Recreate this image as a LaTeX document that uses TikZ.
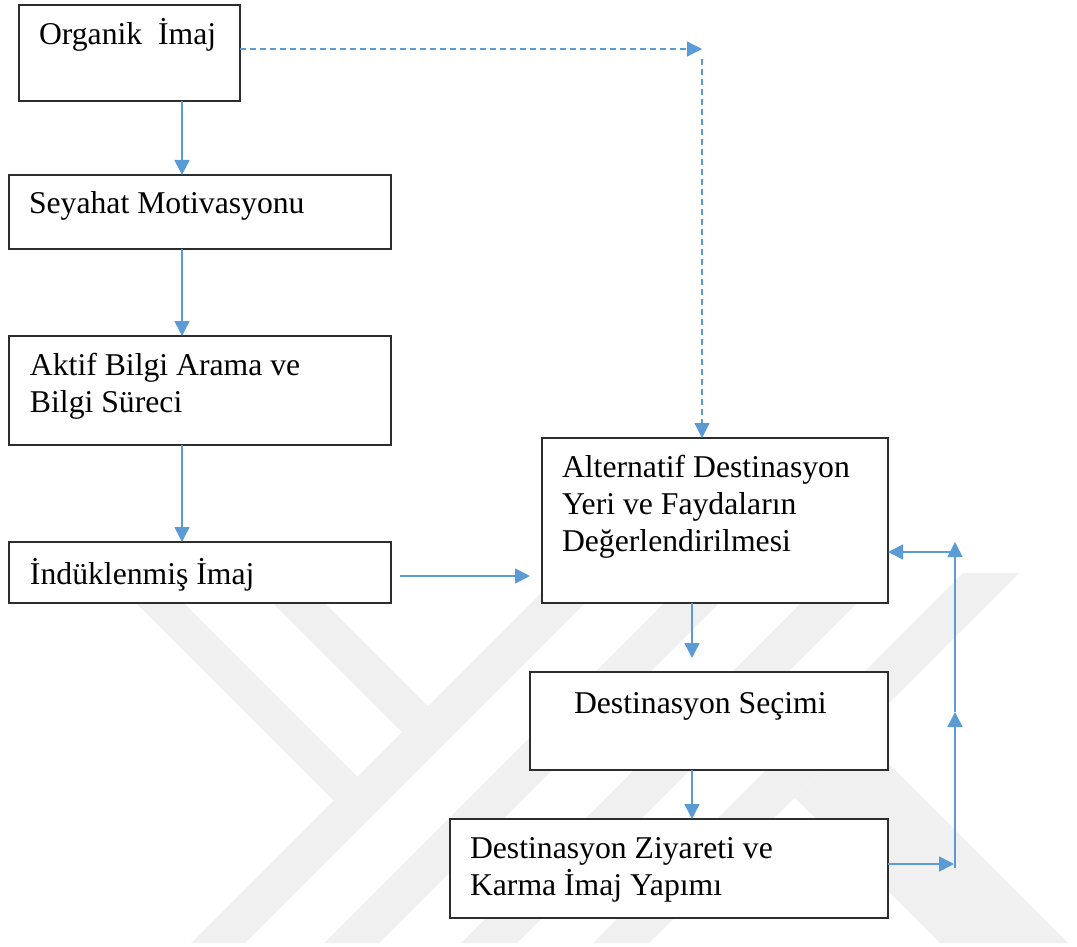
\documentclass[tikz,border=0pt]{standalone}
\usepackage{fontspec}
\setmainfont{Liberation Serif}
\usetikzlibrary{arrows.meta}
\definecolor{flowblue}{RGB}{91,155,213}
\definecolor{wmgray}{RGB}{240,240,240}
\definecolor{boxline}{RGB}{45,45,45}
\begin{document}
\begin{tikzpicture}[x=1pt,y=-1pt,
  box/.style={draw=boxline, line width=1.8pt, fill=white, inner sep=0pt, outer sep=0pt},
  lbl/.style={anchor=base west, inner sep=0pt, outer sep=0pt, font=\fontsize{31.7}{37}\selectfont},
  arr/.style={draw=flowblue, line width=1.5pt, -{Triangle[length=15pt,width=15pt]}},
  dsh/.style={arr, line width=1.2pt, dash pattern=on 6pt off 4pt},
  wm/.style={fill=wmgray, draw=none}]
\useasboundingbox (0,0) rectangle (1077,947);

% watermark
\begin{scope}
\clip (0,573) rectangle (1077,943);
\fill[wm] (106,573) -- (154,573) -- (357.5,776.5) -- (333.5,800.5) -- cycle;
\fill[wm] (243,573) -- (295,573) -- (428,706) -- (402,732) -- cycle;
\fill[wm] (561,573) -- (615,573) -- (245,943) -- (191,943) -- cycle;
\fill[wm] (694,573) -- (749,573) -- (379,943) -- (324,943) -- cycle;
\fill[wm] (831,573) -- (887,573) -- (517,943) -- (461,943) -- cycle;
\fill[wm] (963,573) -- (1019,573) -- (649,943) -- (593,943) -- cycle;
\fill[wm] (794.5,797.5) -- (858.5,733.5) -- (1068,943) -- (940,943) -- cycle;
\end{scope}

% boxes
\node[box, minimum width=221pt, minimum height=96pt]  (org) at (129.5,53) {};
\node[box, minimum width=382pt, minimum height=74pt]  (sey) at (200,212) {};
\node[box, minimum width=382pt, minimum height=109pt] (akt) at (200,390.5) {};
\node[box, minimum width=382pt, minimum height=61pt]  (ind) at (200,572.5) {};
\node[box, minimum width=346pt, minimum height=165pt] (alt) at (715,520.5) {};
\node[box, minimum width=358pt, minimum height=98pt]  (sec) at (709,721) {};
\node[box, minimum width=438pt, minimum height=99pt]  (ziy) at (669,868.5) {};

% texts
\node[lbl] (orgT)  at (39,45)   {Organik\ \ İmaj};
\node[lbl] (seyT)  at (29,213)  {Seyahat Motivasyonu};
\node[lbl] (aktT1) at (30,375)  {Aktif Bilgi Arama ve};
\node[lbl] (aktT2) at (30,412)  {Bilgi Süreci};
\node[lbl] (indT)  at (30,584)  {İndüklenmiş İmaj};
\node[lbl] (altT1) at (562,477) {Alternatif Destinasyon};
\node[lbl] (altT2) at (562,514) {Yeri ve Faydaların};
\node[lbl] (altT3) at (562,551) {Değerlendirilmesi};
\node[lbl] (secT)  at (574,713) {Destinasyon Seçimi};
\node[lbl] (ziyT1) at (470,858) {Destinasyon Ziyareti ve};
\node[lbl] (ziyT2) at (470,895) {Karma İmaj Yapımı};

% helper coordinates
\coordinate (colL) at (182,0);
\coordinate (colR) at (692,0);
\coordinate (dashH) at (702,49);
\coordinate (dashV) at (702,59);
\coordinate (fbB) at (954,864);
\coordinate (fbLow) at (955,868);
\coordinate (fbMid) at (955,712);
\coordinate (fbTop) at (955,542);
\coordinate (fbH) at (955,552);

% connectors
\draw[arr] (colL |- org.south) -- (colL |- sey.north);
\draw[arr] (colL |- sey.south) -- (colL |- akt.north);
\draw[arr] (colL |- akt.south) -- (colL |- ind.north);
\draw[arr] ([xshift=9pt,yshift=-3.5pt]ind.east) -- ([xshift=-12pt,yshift=-3.5pt]alt.west |- ind.east);
\draw[dsh] (org.east |- dashH) -- (dashH);
\draw[dsh] (dashV) -- (dashV |- alt.north);
\draw[arr] (colR |- alt.south) -- ([yshift=14pt]colR |- sec.north);
\draw[arr] (colR |- sec.south) -- (colR |- ziy.north);
\draw[arr] (ziy.east |- fbB) -- (fbB);
\draw[arr] (fbLow) -- (fbMid);
\draw[arr] (fbMid) -- (fbTop);
\draw[arr] (fbH) -- (alt.east |- fbH);
\end{tikzpicture}
\end{document}
